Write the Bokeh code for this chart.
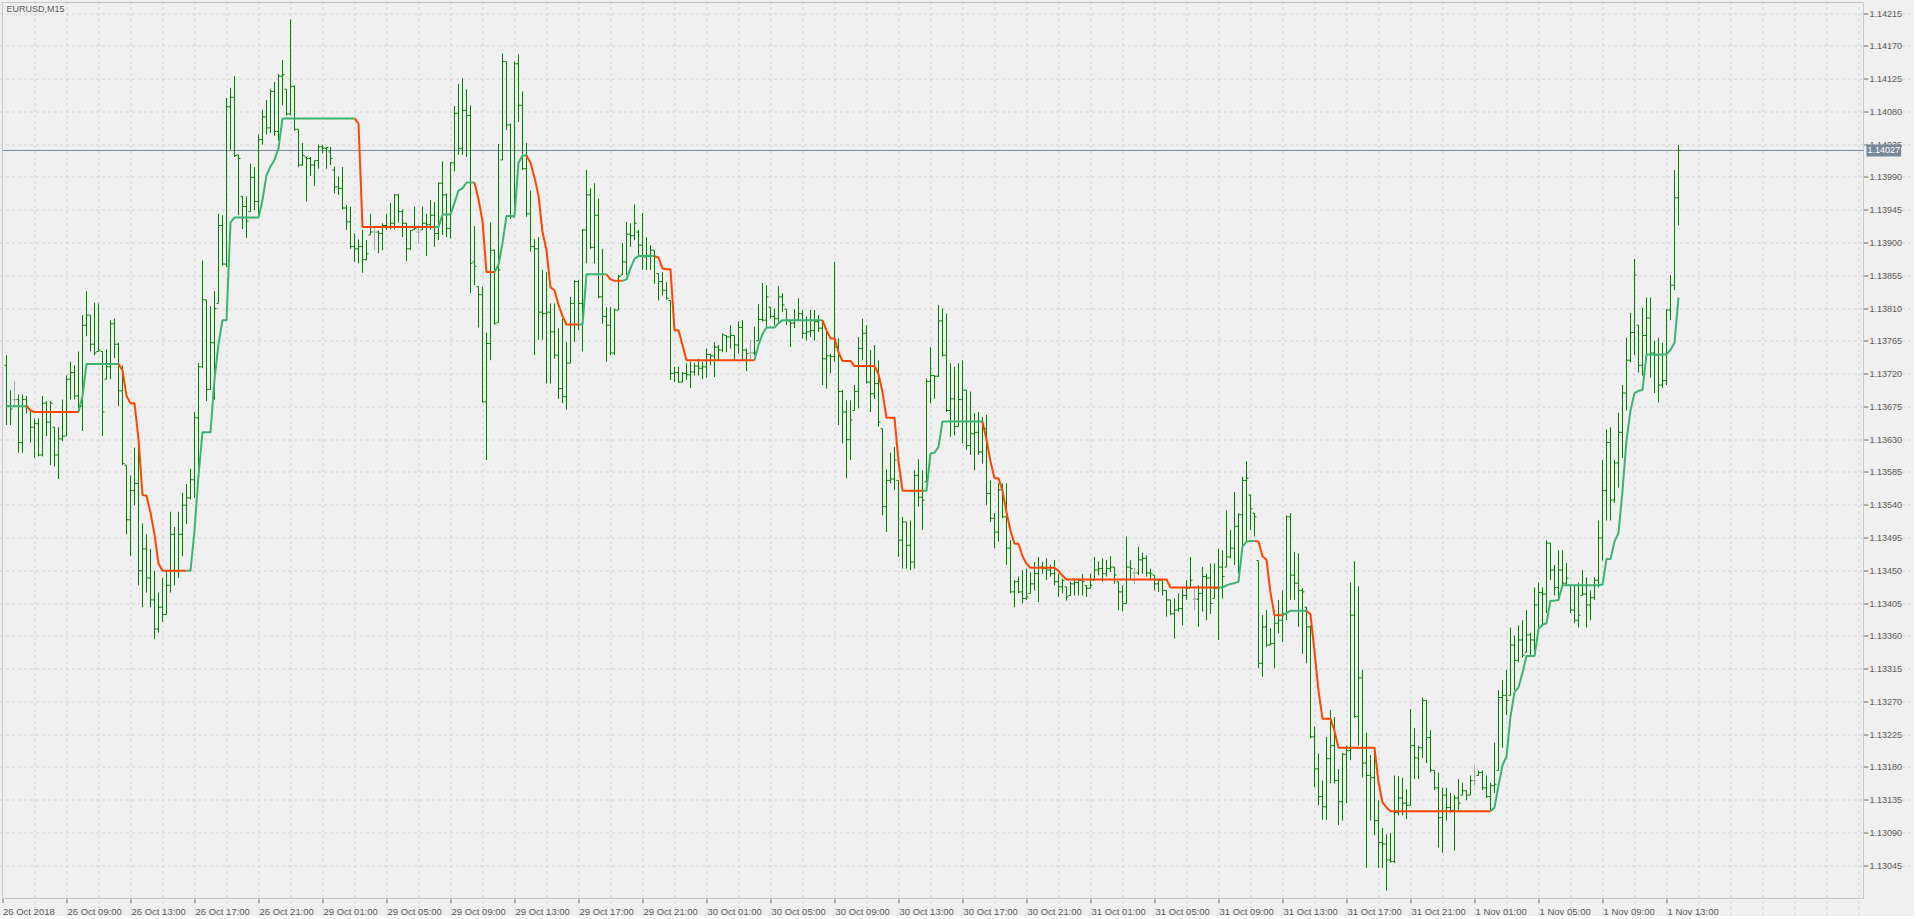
import pandas as pd
from bokeh.plotting import figure
from bokeh.models import Range1d, FixedTicker, PrintfTickFormatter, Label, BoxAnnotation
from bokeh.embed import file_html
from bokeh.resources import INLINE

# ---------------- data (EURUSD, M15) ----------------
symbol = "EURUSD,M15"
first_label = "26 Oct 2018"

high = [
1.13746,1.13698,1.13710,1.13692,1.13692,1.13690,1.13671,1.13659,1.13659,1.13690,
1.13683,1.13683,1.13647,1.13647,1.13685,1.13718,1.13737,1.13732,1.13751,1.13801,
1.13834,1.13801,1.13818,1.13817,1.13751,1.13754,1.13794,1.13796,1.13763,1.13732,
1.13595,1.13581,1.13619,1.13628,1.13515,1.13500,1.13480,1.13450,1.13420,1.13440,
1.13450,1.13531,1.13510,1.13531,1.13557,1.13569,1.13590,1.13668,1.13735,1.13876,
1.13822,1.13813,1.13834,1.13940,1.13938,1.14099,1.14113,1.14129,1.14021,1.13964,
1.13964,1.14009,1.14004,1.14049,1.14083,1.14096,1.14111,1.14121,1.14132,1.14151,
1.14111,1.14207,1.14116,1.14056,1.14037,1.14018,1.14018,1.14013,1.14035,1.14035,
1.14032,1.14032,1.14005,1.13991,1.14004,1.13952,1.13950,1.13913,1.13905,1.13918,
1.13904,1.13940,1.13922,1.13917,1.13927,1.13940,1.13955,1.13967,1.13967,1.13946,
1.13927,1.13918,1.13950,1.13924,1.13950,1.13940,1.13959,1.13956,1.13983,1.14012,
1.13968,1.14011,1.14088,1.14118,1.14126,1.14111,1.14089,1.13923,1.13840,1.13840,
1.13777,1.13928,1.13891,1.14036,1.14160,1.14149,1.14064,1.14149,1.14159,1.14108,
1.14037,1.13972,1.13905,1.13908,1.13863,1.13860,1.13817,1.13817,1.13783,1.13796,
1.13764,1.13826,1.13849,1.13849,1.13919,1.14000,1.13975,1.13982,1.13961,1.13892,
1.13812,1.13812,1.13810,1.13856,1.13900,1.13929,1.13927,1.13953,1.13918,1.13941,
1.13908,1.13897,1.13890,1.13858,1.13860,1.13846,1.13821,1.13730,1.13730,1.13723,
1.13735,1.13737,1.13735,1.13741,1.13737,1.13755,1.13748,1.13764,1.13760,1.13776,
1.13773,1.13787,1.13773,1.13792,1.13794,1.13755,1.13767,1.13785,1.13816,1.13845,
1.13842,1.13812,1.13810,1.13841,1.13831,1.13809,1.13792,1.13809,1.13824,1.13808,
1.13799,1.13808,1.13808,1.13801,1.13794,1.13783,1.13748,1.13874,1.13769,1.13698,
1.13684,1.13684,1.13705,1.13771,1.13796,1.13787,1.13753,1.13760,1.13739,1.13645,
1.13589,1.13612,1.13620,1.13574,1.13524,1.13517,1.13519,1.13588,1.13603,1.13588,
1.13714,1.13757,1.13718,1.13815,1.13810,1.13803,1.13735,1.13730,1.13735,1.13739,
1.13698,1.13696,1.13666,1.13668,1.13661,1.13664,1.13574,1.13529,1.13570,1.13570,
1.13570,1.13492,1.13437,1.13442,1.13451,1.13453,1.13448,1.13462,1.13469,1.13462,
1.13467,1.13458,1.13465,1.13446,1.13439,1.13428,1.13435,1.13439,1.13439,1.13446,
1.13430,1.13446,1.13469,1.13463,1.13467,1.13465,1.13470,1.13455,1.13435,1.13430,
1.13497,1.13465,1.13454,1.13483,1.13475,1.13471,1.13453,1.13444,1.13439,1.13437,
1.13423,1.13410,1.13412,1.13419,1.13426,1.13437,1.13469,1.13428,1.13430,1.13455,
1.13446,1.13460,1.13460,1.13480,1.13478,1.13533,1.13506,1.13558,1.13529,1.13579,
1.13600,1.13554,1.13529,1.13464,1.13389,1.13396,1.13371,1.13396,1.13410,1.13423,
1.13526,1.13529,1.13476,1.13474,1.13426,1.13400,1.13375,1.13236,1.13199,1.13162,
1.13222,1.13259,1.13249,1.13178,1.13200,1.13210,1.13434,1.13463,1.13429,1.13314,
1.13228,1.13197,1.13200,1.13135,1.13097,1.13088,1.13090,1.13169,1.13168,1.13166,
1.13150,1.13260,1.13234,1.13210,1.13276,1.13272,1.13231,1.13176,1.13173,1.13152,
1.13152,1.13145,1.13142,1.13164,1.13159,1.13148,1.13169,1.13183,1.13176,1.13176,
1.13169,1.13159,1.13214,1.13286,1.13300,1.13314,1.13372,1.13361,1.13375,1.13382,
1.13396,1.13365,1.13427,1.13434,1.13427,1.13492,1.13488,1.13458,1.13478,1.13478,
1.13461,1.13430,1.13430,1.13434,1.13451,1.13441,1.13423,1.13441,1.13519,1.13602,
1.13644,1.13647,1.13602,1.13667,1.13705,1.13770,1.13804,1.13878,1.13787,1.13811,
1.13825,1.13825,1.13766,1.13770,1.13763,1.13809,1.13856,1.14000,1.14035,
]

low = [
1.13650,1.13650,1.13676,1.13612,1.13612,1.13666,1.13626,1.13605,1.13607,1.13607,
1.13635,1.13595,1.13593,1.13576,1.13628,1.13635,1.13685,1.13685,1.13673,1.13642,
1.13772,1.13751,1.13746,1.13751,1.13635,1.13713,1.13713,1.13742,1.13676,1.13595,
1.13500,1.13470,1.13540,1.13430,1.13400,1.13420,1.13400,1.13356,1.13365,1.13380,
1.13390,1.13420,1.13430,1.13440,1.13470,1.13514,1.13548,1.13550,1.13590,1.13728,
1.13683,1.13699,1.13685,1.13817,1.13869,1.13867,1.14028,1.14018,1.13938,1.13919,
1.13907,1.13943,1.13945,1.13938,1.14035,1.14049,1.14051,1.14047,1.14040,1.14089,
1.14075,1.14075,1.14054,1.14004,1.14006,1.13957,1.13992,1.13978,1.14002,1.14023,
1.14002,1.14007,1.13968,1.13966,1.13946,1.13918,1.13892,1.13874,1.13872,1.13859,
1.13876,1.13911,1.13890,1.13886,1.13890,1.13918,1.13919,1.13919,1.13928,1.13908,
1.13875,1.13890,1.13918,1.13899,1.13918,1.13882,1.13918,1.13895,1.13904,1.13911,
1.13908,1.13906,1.13998,1.14021,1.14021,1.14018,1.13831,1.13842,1.13784,1.13681,
1.13602,1.13739,1.13788,1.13791,1.14014,1.14055,1.13933,1.13935,1.14066,1.14000,
1.13936,1.13888,1.13746,1.13767,1.13767,1.13707,1.13707,1.13741,1.13686,1.13680,
1.13671,1.13735,1.13764,1.13780,1.13751,1.13872,1.13892,1.13872,1.13824,1.13789,
1.13737,1.13746,1.13746,1.13808,1.13856,1.13856,1.13895,1.13904,1.13881,1.13863,
1.13863,1.13863,1.13844,1.13821,1.13828,1.13822,1.13712,1.13709,1.13708,1.13709,
1.13712,1.13701,1.13718,1.13718,1.13713,1.13715,1.13732,1.13716,1.13739,1.13750,
1.13750,1.13755,1.13739,1.13748,1.13739,1.13724,1.13739,1.13746,1.13766,1.13792,
1.13783,1.13796,1.13787,1.13792,1.13805,1.13787,1.13757,1.13783,1.13794,1.13769,
1.13766,1.13771,1.13766,1.13778,1.13705,1.13700,1.13721,1.13737,1.13650,1.13625,
1.13577,1.13602,1.13670,1.13673,1.13739,1.13707,1.13668,1.13686,1.13648,1.13526,
1.13503,1.13570,1.13561,1.13469,1.13453,1.13453,1.13451,1.13453,1.13538,1.13506,
1.13572,1.13680,1.13686,1.13716,1.13744,1.13668,1.13634,1.13636,1.13648,1.13625,
1.13616,1.13609,1.13588,1.13609,1.13597,1.13540,1.13517,1.13481,1.13490,1.13522,
1.13458,1.13419,1.13400,1.13419,1.13405,1.13410,1.13419,1.13423,1.13407,1.13446,
1.13437,1.13442,1.13430,1.13414,1.13419,1.13409,1.13416,1.13416,1.13416,1.13416,
1.13414,1.13426,1.13437,1.13444,1.13435,1.13442,1.13448,1.13432,1.13396,1.13394,
1.13405,1.13437,1.13432,1.13444,1.13446,1.13442,1.13437,1.13423,1.13421,1.13416,
1.13387,1.13389,1.13357,1.13394,1.13375,1.13410,1.13426,1.13396,1.13373,1.13394,
1.13382,1.13391,1.13412,1.13355,1.13412,1.13455,1.13467,1.13458,1.13446,1.13485,
1.13490,1.13506,1.13497,1.13316,1.13304,1.13345,1.13348,1.13316,1.13364,1.13352,
1.13382,1.13410,1.13410,1.13373,1.13336,1.13323,1.13220,1.13153,1.13128,1.13108,
1.13108,1.13158,1.13158,1.13101,1.13107,1.13131,1.13190,1.13248,1.13210,1.13166,
1.13042,1.13107,1.13087,1.13042,1.13042,1.13011,1.13049,1.13049,1.13114,1.13114,
1.13109,1.13128,1.13164,1.13164,1.13193,1.13186,1.13173,1.13149,1.13070,1.13063,
1.13107,1.13118,1.13066,1.13121,1.13142,1.13135,1.13142,1.13155,1.13169,1.13149,
1.13138,1.13121,1.13145,1.13176,1.13207,1.13252,1.13279,1.13286,1.13324,1.13331,
1.13338,1.13334,1.13338,1.13372,1.13375,1.13392,1.13437,1.13416,1.13409,1.13427,
1.13430,1.13392,1.13378,1.13372,1.13416,1.13372,1.13382,1.13410,1.13427,1.13464,
1.13519,1.13519,1.13543,1.13564,1.13605,1.13670,1.13736,1.13746,1.13722,1.13718,
1.13746,1.13715,1.13694,1.13681,1.13701,1.13705,1.13794,1.13835,1.13924,
]

open_ = [
1.13732,1.13676,1.13685,1.13685,1.13626,1.13685,1.13671,1.13647,1.13652,1.13609,
1.13680,1.13654,1.13647,1.13609,1.13631,1.13635,1.13713,1.13722,1.13690,1.13676,
1.13787,1.13801,1.13761,1.13751,1.13751,1.13713,1.13730,1.13789,1.13761,1.13697,
1.13595,1.13520,1.13560,1.13570,1.13450,1.13480,1.13440,1.13410,1.13370,1.13400,
1.13390,1.13430,1.13500,1.13450,1.13500,1.13540,1.13550,1.13575,1.13660,1.13730,
1.13822,1.13699,1.13763,1.13817,1.13924,1.13871,1.14087,1.14100,1.14021,1.13964,
1.13950,1.13943,1.13990,1.13957,1.14042,1.14073,1.14058,1.14108,1.14053,1.14129,
1.14111,1.14077,1.14115,1.14056,1.14007,1.14018,1.14016,1.14007,1.14013,1.14032,
1.14030,1.14025,1.14000,1.13977,1.13975,1.13948,1.13929,1.13895,1.13892,1.13895,
1.13877,1.13911,1.13915,1.13915,1.13913,1.13924,1.13922,1.13927,1.13966,1.13943,
1.13927,1.13892,1.13918,1.13915,1.13918,1.13927,1.13925,1.13938,1.13913,1.13982,
1.13966,1.13920,1.14010,1.14078,1.14030,1.14082,1.14075,1.13874,1.13840,1.13829,
1.13682,1.13762,1.13890,1.13791,1.14014,1.14149,1.14062,1.13936,1.14146,1.14089,
1.14002,1.13940,1.13895,1.13892,1.13805,1.13803,1.13805,1.13778,1.13746,1.13700,
1.13689,1.13735,1.13817,1.13847,1.13817,1.13918,1.13966,1.13894,1.13938,1.13826,
1.13799,1.13787,1.13749,1.13808,1.13856,1.13874,1.13912,1.13910,1.13915,1.13897,
1.13881,1.13883,1.13890,1.13858,1.13847,1.13835,1.13821,1.13721,1.13722,1.13709,
1.13721,1.13719,1.13723,1.13731,1.13728,1.13730,1.13747,1.13745,1.13757,1.13753,
1.13773,1.13771,1.13773,1.13760,1.13784,1.13753,1.13749,1.13749,1.13766,1.13795,
1.13794,1.13812,1.13799,1.13796,1.13826,1.13809,1.13792,1.13790,1.13794,1.13803,
1.13776,1.13778,1.13780,1.13792,1.13783,1.13741,1.13745,1.13744,1.13757,1.13696,
1.13668,1.13630,1.13670,1.13696,1.13755,1.13776,1.13709,1.13693,1.13707,1.13645,
1.13538,1.13574,1.13576,1.13574,1.13492,1.13517,1.13485,1.13462,1.13581,1.13551,
1.13572,1.13710,1.13718,1.13717,1.13793,1.13746,1.13670,1.13686,1.13648,1.13685,
1.13698,1.13622,1.13638,1.13640,1.13613,1.13645,1.13556,1.13522,1.13503,1.13561,
1.13524,1.13481,1.13421,1.13435,1.13421,1.13412,1.13419,1.13432,1.13446,1.13455,
1.13453,1.13451,1.13446,1.13435,1.13428,1.13428,1.13416,1.13432,1.13434,1.13437,
1.13430,1.13426,1.13437,1.13451,1.13453,1.13446,1.13453,1.13455,1.13435,1.13421,
1.13405,1.13455,1.13447,1.13447,1.13465,1.13467,1.13447,1.13444,1.13432,1.13437,
1.13423,1.13410,1.13391,1.13396,1.13398,1.13416,1.13426,1.13411,1.13411,1.13419,
1.13442,1.13440,1.13412,1.13426,1.13455,1.13455,1.13469,1.13481,1.13511,1.13527,
1.13574,1.13554,1.13529,1.13464,1.13323,1.13373,1.13348,1.13350,1.13378,1.13382,
1.13391,1.13524,1.13444,1.13433,1.13423,1.13400,1.13373,1.13222,1.13178,1.13140,
1.13126,1.13192,1.13210,1.13162,1.13133,1.13198,1.13203,1.13389,1.13250,1.13303,
1.13186,1.13169,1.13166,1.13107,1.13077,1.13075,1.13053,1.13051,1.13118,1.13138,
1.13131,1.13128,1.13210,1.13193,1.13207,1.13272,1.13221,1.13176,1.13152,1.13111,
1.13142,1.13125,1.13121,1.13138,1.13142,1.13148,1.13142,1.13162,1.13169,1.13173,
1.13152,1.13140,1.13155,1.13176,1.13276,1.13279,1.13279,1.13348,1.13327,1.13355,
1.13338,1.13362,1.13355,1.13403,1.13420,1.13418,1.13488,1.13451,1.13427,1.13451,
1.13433,1.13430,1.13396,1.13382,1.13416,1.13418,1.13403,1.13413,1.13437,1.13495,
1.13560,1.13626,1.13547,1.13598,1.13640,1.13694,1.13739,1.13777,1.13787,1.13732,
1.13773,1.13797,1.13749,1.13746,1.13705,1.13711,1.13808,1.13842,1.13962,
]

close = [
1.13676,1.13672,1.13685,1.13626,1.13685,1.13676,1.13647,1.13652,1.13609,1.13680,
1.13654,1.13680,1.13609,1.13631,1.13635,1.13713,1.13722,1.13690,1.13676,1.13787,
1.13801,1.13761,1.13749,1.13753,1.13668,1.13730,1.13789,1.13761,1.13697,1.13597,
1.13520,1.13560,1.13570,1.13450,1.13480,1.13440,1.13410,1.13370,1.13400,1.13390,
1.13430,1.13500,1.13450,1.13500,1.13540,1.13550,1.13575,1.13660,1.13730,1.13822,
1.13699,1.13763,1.13810,1.13924,1.13871,1.14087,1.14100,1.14020,1.14016,1.13950,
1.13930,1.13990,1.13957,1.14042,1.14073,1.14058,1.14108,1.14053,1.14129,1.14131,
1.14077,1.14115,1.14056,1.14007,1.14020,1.14016,1.14007,1.14013,1.14032,1.14030,
1.14031,1.14016,1.13977,1.13975,1.13948,1.13929,1.13895,1.13892,1.13895,1.13877,
1.13885,1.13915,1.13915,1.13913,1.13924,1.13922,1.13927,1.13966,1.13943,1.13927,
1.13892,1.13917,1.13920,1.13915,1.13927,1.13925,1.13938,1.13913,1.13982,1.13966,
1.13920,1.14010,1.14078,1.14030,1.14082,1.14075,1.13872,1.13868,1.13829,1.13682,
1.13762,1.13890,1.13789,1.13863,1.14149,1.14062,1.13936,1.14146,1.14089,1.14002,
1.13940,1.13895,1.13892,1.13805,1.13803,1.13805,1.13778,1.13746,1.13700,1.13689,
1.13735,1.13817,1.13847,1.13817,1.13918,1.13966,1.13894,1.13938,1.13826,1.13799,
1.13787,1.13749,1.13808,1.13854,1.13874,1.13912,1.13910,1.13927,1.13897,1.13881,
1.13883,1.13890,1.13881,1.13847,1.13835,1.13824,1.13721,1.13722,1.13709,1.13721,
1.13719,1.13723,1.13731,1.13728,1.13730,1.13747,1.13745,1.13757,1.13753,1.13774,
1.13771,1.13773,1.13760,1.13784,1.13753,1.13748,1.13749,1.13750,1.13795,1.13794,
1.13826,1.13799,1.13796,1.13826,1.13815,1.13794,1.13790,1.13794,1.13803,1.13776,
1.13778,1.13780,1.13792,1.13783,1.13741,1.13745,1.13744,1.13757,1.13696,1.13668,
1.13630,1.13657,1.13696,1.13755,1.13776,1.13709,1.13693,1.13707,1.13654,1.13538,
1.13574,1.13576,1.13602,1.13492,1.13517,1.13485,1.13462,1.13581,1.13551,1.13547,
1.13710,1.13718,1.13717,1.13793,1.13746,1.13670,1.13686,1.13648,1.13685,1.13698,
1.13622,1.13638,1.13640,1.13613,1.13645,1.13556,1.13522,1.13503,1.13561,1.13524,
1.13481,1.13421,1.13435,1.13421,1.13412,1.13414,1.13432,1.13446,1.13455,1.13453,
1.13451,1.13446,1.13435,1.13428,1.13437,1.13414,1.13432,1.13434,1.13437,1.13435,
1.13426,1.13430,1.13451,1.13453,1.13446,1.13453,1.13455,1.13444,1.13421,1.13405,
1.13455,1.13453,1.13447,1.13465,1.13467,1.13447,1.13446,1.13432,1.13437,1.13423,
1.13410,1.13391,1.13396,1.13398,1.13416,1.13426,1.13437,1.13411,1.13419,1.13442,
1.13440,1.13405,1.13426,1.13455,1.13442,1.13469,1.13481,1.13511,1.13527,1.13574,
1.13577,1.13535,1.13524,1.13323,1.13373,1.13348,1.13350,1.13378,1.13382,1.13391,
1.13524,1.13444,1.13433,1.13423,1.13421,1.13373,1.13222,1.13178,1.13140,1.13126,
1.13192,1.13210,1.13162,1.13133,1.13198,1.13203,1.13389,1.13250,1.13303,1.13186,
1.13169,1.13166,1.13107,1.13077,1.13075,1.13053,1.13051,1.13118,1.13138,1.13131,
1.13128,1.13210,1.13193,1.13207,1.13272,1.13221,1.13176,1.13152,1.13111,1.13142,
1.13125,1.13121,1.13138,1.13131,1.13148,1.13142,1.13162,1.13162,1.13173,1.13152,
1.13140,1.13155,1.13157,1.13276,1.13279,1.13272,1.13348,1.13327,1.13355,1.13334,
1.13362,1.13355,1.13403,1.13420,1.13418,1.13488,1.13451,1.13427,1.13451,1.13433,
1.13440,1.13396,1.13382,1.13389,1.13418,1.13403,1.13413,1.13437,1.13495,1.13560,
1.13626,1.13547,1.13598,1.13640,1.13694,1.13739,1.13777,1.13856,1.13732,1.13773,
1.13797,1.13749,1.13746,1.13705,1.13711,1.13808,1.13842,1.13962,1.14027,
]

# trailing-stop style indicator, one value per bar
indicator = [
1.13676,1.13676,1.13676,1.13676,1.13676,1.13676,1.13670,1.13668,1.13668,1.13668,
1.13668,1.13668,1.13668,1.13668,1.13668,1.13668,1.13668,1.13668,1.13668,1.13690,
1.13734,1.13734,1.13734,1.13734,1.13734,1.13734,1.13734,1.13734,1.13734,1.13725,
1.13690,1.13680,1.13680,1.13631,1.13554,1.13553,1.13530,1.13500,1.13460,1.13450,
1.13450,1.13450,1.13450,1.13450,1.13450,1.13450,1.13450,1.13505,1.13581,1.13640,
1.13640,1.13640,1.13713,1.13761,1.13794,1.13794,1.13928,1.13935,1.13935,1.13935,
1.13935,1.13935,1.13935,1.13935,1.13959,1.13993,1.14005,1.14014,1.14030,1.14071,
1.14071,1.14071,1.14071,1.14071,1.14071,1.14071,1.14071,1.14071,1.14071,1.14071,
1.14071,1.14071,1.14071,1.14071,1.14071,1.14071,1.14071,1.14071,1.14064,1.13922,
1.13922,1.13922,1.13922,1.13922,1.13922,1.13922,1.13922,1.13922,1.13922,1.13922,
1.13922,1.13922,1.13922,1.13922,1.13922,1.13922,1.13922,1.13922,1.13922,1.13939,
1.13939,1.13939,1.13955,1.13972,1.13975,1.13983,1.13983,1.13983,1.13960,1.13930,
1.13860,1.13860,1.13860,1.13870,1.13900,1.13937,1.13937,1.13937,1.14010,1.14020,
1.14020,1.14010,1.13990,1.13965,1.13915,1.13890,1.13839,1.13835,1.13815,1.13800,
1.13788,1.13788,1.13788,1.13788,1.13788,1.13857,1.13857,1.13857,1.13857,1.13857,
1.13857,1.13850,1.13848,1.13848,1.13848,1.13850,1.13865,1.13878,1.13882,1.13882,
1.13882,1.13882,1.13882,1.13880,1.13865,1.13864,1.13864,1.13780,1.13780,1.13760,
1.13739,1.13739,1.13739,1.13739,1.13739,1.13739,1.13739,1.13739,1.13739,1.13739,
1.13739,1.13739,1.13739,1.13739,1.13739,1.13739,1.13739,1.13739,1.13760,1.13775,
1.13784,1.13784,1.13784,1.13790,1.13794,1.13794,1.13794,1.13794,1.13794,1.13794,
1.13794,1.13794,1.13794,1.13794,1.13794,1.13780,1.13769,1.13769,1.13750,1.13738,
1.13738,1.13738,1.13731,1.13731,1.13731,1.13731,1.13731,1.13731,1.13720,1.13695,
1.13660,1.13660,1.13660,1.13600,1.13560,1.13560,1.13560,1.13560,1.13560,1.13560,
1.13560,1.13611,1.13612,1.13620,1.13655,1.13655,1.13655,1.13655,1.13655,1.13655,
1.13655,1.13655,1.13655,1.13655,1.13655,1.13630,1.13600,1.13577,1.13577,1.13560,
1.13530,1.13505,1.13487,1.13487,1.13470,1.13460,1.13454,1.13454,1.13454,1.13454,
1.13454,1.13454,1.13454,1.13450,1.13443,1.13438,1.13438,1.13438,1.13438,1.13438,
1.13438,1.13438,1.13438,1.13438,1.13438,1.13438,1.13438,1.13438,1.13438,1.13438,
1.13438,1.13438,1.13438,1.13438,1.13438,1.13438,1.13438,1.13438,1.13438,1.13438,
1.13438,1.13427,1.13427,1.13427,1.13427,1.13427,1.13427,1.13427,1.13427,1.13427,
1.13427,1.13427,1.13427,1.13427,1.13427,1.13430,1.13432,1.13433,1.13435,1.13483,
1.13490,1.13491,1.13491,1.13490,1.13470,1.13465,1.13420,1.13389,1.13389,1.13389,
1.13392,1.13395,1.13395,1.13395,1.13395,1.13395,1.13390,1.13339,1.13285,1.13247,
1.13247,1.13247,1.13230,1.13207,1.13207,1.13207,1.13207,1.13207,1.13207,1.13207,
1.13207,1.13207,1.13207,1.13160,1.13132,1.13125,1.13120,1.13120,1.13120,1.13120,
1.13120,1.13120,1.13120,1.13120,1.13120,1.13120,1.13120,1.13120,1.13120,1.13120,
1.13120,1.13120,1.13120,1.13120,1.13120,1.13120,1.13120,1.13120,1.13120,1.13120,
1.13120,1.13120,1.13125,1.13155,1.13183,1.13195,1.13250,1.13283,1.13290,1.13310,
1.13333,1.13333,1.13333,1.13370,1.13376,1.13378,1.13409,1.13409,1.13410,1.13430,
1.13430,1.13430,1.13430,1.13430,1.13430,1.13430,1.13430,1.13430,1.13430,1.13431,
1.13466,1.13466,1.13490,1.13502,1.13560,1.13629,1.13670,1.13694,1.13697,1.13698,
1.13747,1.13747,1.13747,1.13747,1.13747,1.13747,1.13753,1.13763,1.13825,
]

# indicator direction, as consecutive runs of bars
trend_runs = [
("up", 6), ("down", 13), ("up", 10), ("down", 17), ("up", 42), ("down", 20),
("up", 10), ("down", 5), ("up", 8), ("down", 13), ("up", 7), ("down", 4),
("up", 8), ("down", 25), ("up", 17), ("down", 25), ("up", 15), ("down", 59),
("up", 9), ("down", 7), ("up", 6), ("down", 46), ("up", 47),
]

y_tick_values = [1.13045, 1.13090, 1.13135, 1.13180, 1.13225, 1.13270, 1.13315,
                 1.13360, 1.13405, 1.13450, 1.13495, 1.13540, 1.13585, 1.13630,
                 1.13675, 1.13720, 1.13765, 1.13810, 1.13855, 1.13900, 1.13945,
                 1.13990, 1.14035, 1.14080, 1.14125, 1.14170, 1.14215]

x_labels = ["26 Oct 09:00", "26 Oct 13:00", "26 Oct 17:00", "26 Oct 21:00",
            "29 Oct 01:00", "29 Oct 05:00", "29 Oct 09:00", "29 Oct 13:00",
            "29 Oct 17:00", "29 Oct 21:00", "30 Oct 01:00", "30 Oct 05:00",
            "30 Oct 09:00", "30 Oct 13:00", "30 Oct 17:00", "30 Oct 21:00",
            "31 Oct 01:00", "31 Oct 05:00", "31 Oct 09:00", "31 Oct 13:00",
            "31 Oct 17:00", "31 Oct 21:00", "1 Nov 01:00", "1 Nov 05:00",
            "1 Nov 09:00", "1 Nov 13:00"]

# bar times (Friday session, then Monday onward)
n = len(close)
fri = list(pd.date_range("2018-10-26 05:15", "2018-10-26 23:45", freq="15min"))
mon = list(pd.date_range("2018-10-29 00:00", periods=n - len(fri), freq="15min"))
times = fri + mon
time_text = [f"{t.day} {t.strftime('%b %H:%M')}" for t in times]
tick_x = [time_text.index(lab) for lab in x_labels]

# ---------------- styling / layout ----------------
FONT = "Liberation Sans"
TXT = "#5A5A5A"
BG = "#F0F0F0"
FRAME = "#6E6E6E"
BAR = "#008000"
DOJI = "#A8A8A8"
UP = "#3CB371"
DOWN = "#FF4500"
PRICE = "#778899"
GRID = "#D4D4D4"

W, H = 1914, 916            # canvas; the chart window is drawn inside it
PX_PER_BAR = 4.0
PRICE_PER_PX = 0.00045 / 32.78
# pixel-centre positions (no hidpi half-pixel shift)
x_lo = -6.5 / PX_PER_BAR
x_hi = x_lo + W / PX_PER_BAR
y_hi = y_tick_values[-1] + 13.5 * PRICE_PER_PX
y_lo = y_hi - H * PRICE_PER_PX
# chart window (bordered area) in data units
cx0, cx1 = x_lo + 2.5 / PX_PER_BAR, x_lo + 1863.5 / PX_PER_BAR
cy1, cy0 = y_hi - 2.5 * PRICE_PER_PX, y_hi - 898.5 * PRICE_PER_PX

p = figure(output_backend="svg", toolbar_location=None, hidpi=False,
           frame_width=W, frame_height=H,
           x_range=Range1d(x_lo, x_hi), y_range=Range1d(y_lo, y_hi),
           y_axis_location="right", min_border=0,
           background_fill_color=BG, border_fill_color=BG,
           outline_line_color=None)

# grids limited to the chart window
p.ygrid.ticker = FixedTicker(ticks=y_tick_values)
p.ygrid.bounds = (cx0, cx1)
p.xgrid.ticker = FixedTicker(ticks=list(range(7, int(cx1), 8)))
p.xgrid.bounds = (cy0, cy1)
for g in (p.xgrid, p.ygrid):
    g.grid_line_color = GRID
    g.grid_line_dash = "3 3"
    g.grid_line_width = 1

# price axis on the chart's right border
ya = p.yaxis[0]
ya.fixed_location = cx1
ya.ticker = FixedTicker(ticks=y_tick_values)
ya.formatter = PrintfTickFormatter(format="%.5f")
ya.major_tick_out = 4
ya.major_tick_in = 0
ya.minor_tick_line_color = None
ya.axis_line_color = None
ya.major_tick_line_color = FRAME
ya.major_label_standoff = 2
ya.major_label_text_font = FONT
ya.major_label_text_font_size = "9px"
ya.major_label_text_color = TXT

# time axis on the chart's bottom border: tick marks at the label starts,
# texts left-aligned to them (placed at their centres)
XFS = 9.5
em = {" ": 0.278, ":": 0.278, "O": 0.778, "c": 0.5, "t": 0.278, "N": 0.722, "o": 0.556, "v": 0.5}
def text_w(s):
    return sum(em.get(ch, 0.556) for ch in s) * XFS

centres = [cx0 + (text_w(first_label) / 2 + 0.5) / PX_PER_BAR]
centres += [t + (text_w(lab) / 2 + 1.0) / PX_PER_BAR for t, lab in zip(tick_x, x_labels)]
all_labels = [first_label] + x_labels

xa = p.xaxis[0]
xa.fixed_location = cy0
xa.ticker = FixedTicker(ticks=centres, minor_ticks=[cx0] + tick_x)
xa.major_label_overrides = {c: lab for c, lab in zip(centres, all_labels)}
xa.major_tick_line_color = None
xa.major_tick_out = 0
xa.major_tick_in = 0
xa.minor_tick_line_color = FRAME
xa.minor_tick_out = 4
xa.minor_tick_in = 0
xa.axis_line_color = None
xa.major_label_standoff = 3
xa.major_label_text_font = FONT
xa.major_label_text_font_size = f"{XFS}px"
xa.major_label_text_color = TXT

# chart border
p.add_layout(BoxAnnotation(left=cx0, right=cx1, bottom=cy0, top=cy1,
                           fill_color=None, line_color=FRAME, line_width=1))

# current price line
last_price = close[-1]
p.segment(x0=[cx0], y0=[last_price], x1=[cx1], y1=[last_price], line_color=PRICE, line_width=1)

# OHLC bars
idx = list(range(n))
bar_colors = [DOJI if o == c else BAR for o, c in zip(open_, close)]
p.segment(x0=idx, y0=low, x1=idx, y1=high, line_color=bar_colors, line_width=1)
p.segment(x0=[i - 0.5 for i in idx], y0=open_, x1=idx, y1=open_, line_color=bar_colors, line_width=1)
p.segment(x0=idx, y0=close, x1=[i + 0.5 for i in idx], y1=close, line_color=bar_colors, line_width=1)

# indicator line, coloured by direction
xs, ys, cs = [], [], []
start = 0
for state, cnt in trend_runs:
    s0 = max(start - 1, 0)
    xs.append(list(range(s0, start + cnt)))
    ys.append(indicator[s0:start + cnt])
    cs.append(UP if state == "up" else DOWN)
    start += cnt
p.multi_line(xs=xs, ys=ys, line_color=cs, line_width=2)

# symbol caption and current price tag
p.add_layout(Label(x=cx0, y=cy1, x_offset=4, y_offset=-1, text=symbol,
                   text_font=FONT, text_font_size="9px", text_color=TXT,
                   text_align="left", text_baseline="top"))
p.add_layout(Label(x=cx1, y=last_price, x_offset=3, y_offset=0, text=f"{last_price:.5f}",
                   text_font=FONT, text_font_size="9px", text_color="white",
                   background_fill_color=PRICE, padding=(1, 3),
                   text_align="left", text_baseline="middle"))

open("out.html", "w").write(file_html(p, INLINE))
